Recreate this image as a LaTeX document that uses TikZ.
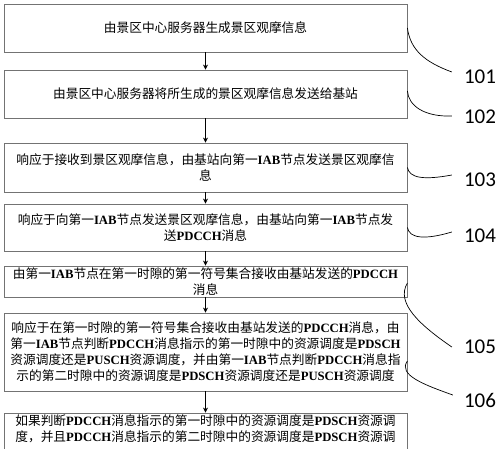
\documentclass[tikz,border=0pt]{standalone}
\usepackage{fontspec}
\setmainfont{Noto Sans CJK SC}
\newfontfamily\latf{Liberation Serif}
\newfontfamily\numf{Carlito}
\newcommand\E[1]{{\latf\bfseries #1}}
\usetikzlibrary{arrows.meta}
\begin{document}
\begin{tikzpicture}[x=1pt,y=-1pt,
  box/.style={draw=black!55, line width=0.8pt, minimum width=403pt, inner sep=0pt,
    align=center, font=\fontsize{12.7}{16}\selectfont},
  arr/.style={line width=0.8pt, -{Stealth[length=5pt,width=5pt]}},
  lab/.style={inner sep=0pt, font=\numf\fontsize{21}{21}\selectfont},
  lead/.style={line width=0.7pt}]
\clip (0,0) rectangle (500,448);
\fill[white] (0,0) rectangle (500,448);

\node[box, minimum height=48pt] (b1) at (205.5,28) {由景区中心服务器生成景区观摩信息};
\node[box, minimum height=48pt] (b2) at (205.5,94) {由景区中心服务器将所生成的景区观摩信息发送给基站};
\node[box, minimum height=49pt] (b3) at (205.5,167.5) {响应于接收到景区观摩信息，由基站向第一\E{IAB}节点发送景区观摩信\\息};
\node[box, minimum height=47pt] (b4) at (205.5,227.5) {响应于向第一\E{IAB}节点发送景区观摩信息，由基站向第一\E{IAB}节点发\\送\E{PDCCH}消息};
\node[box, minimum height=31pt] (b5) at (205.5,281.5) {由第一\E{IAB}节点在第一时隙的第一符号集合接收由基站发送的\E{PDCCH}\\消息};
\node[box, minimum height=78pt] (b6) at (205.5,352) {响应于在第一时隙的第一符号集合接收由基站发送的\E{PDCCH}消息，由\\第一\E{IAB}节点判断\E{PDCCH}消息指示的第一时隙中的资源调度是\E{PDSCH}\\资源调度还是\E{PUSCH}资源调度，并由第一\E{IAB}节点判断\E{PDCCH}消息指\\示的第二时隙中的资源调度是\E{PDSCH}资源调度还是\E{PUSCH}资源调度};
\node[box, minimum height=50pt] (b7) at (205.5,438) {如果判断\E{PDCCH}消息指示的第一时隙中的资源调度是\E{PDSCH}资源调\\度，并且\E{PDCCH}消息指示的第二时隙中的资源调度是\E{PDSCH}资源调\\\strut};

\draw[arr] (b1) -- (b2);
\draw[arr] (b2) -- (b3);
\draw[arr] (b3) -- (b4);
\draw[arr] (b4) -- (b5);
\draw[arr] (b5) -- (b6);
\draw[arr] (b6) -- (b7);

\node[lab] (l1) at (480,77) {101};
\node[lab] (l2) at (480,117) {102};
\node[lab] (l3) at (480,180) {103};
\node[lab] (l4) at (480,236) {104};
\node[lab] (l5) at (480,347) {105};
\node[lab] (l6) at (480,400) {106};

\draw[lead] (b1.east) .. controls +(3,22) and +(-27,-10) .. ([shift={(-12,-5)}]l1.west);
\draw[lead] ([yshift=3pt]b2.east) .. controls +(1,15) and +(-27,1) .. ([shift={(-12,-1)}]l2.west);
\draw[lead] (b3.east) .. controls +(2,11) and +(-27,5) .. ([shift={(-12,-5)}]l3.west);
\draw[lead] (b4.east) .. controls +(2,11) and +(-27,8) .. ([shift={(-12,-4)}]l4.west);
\draw[lead] ([yshift=-1.5pt]b5.east) .. controls +(-12,20) and +(-32,-22) .. ([shift={(-12,0)}]l5.west);
\draw[lead] ([yshift=-9pt]b6.east) .. controls +(-10,14) and +(-28,-10) .. ([shift={(-11,-5)}]l6.west);
\end{tikzpicture}
\end{document}
